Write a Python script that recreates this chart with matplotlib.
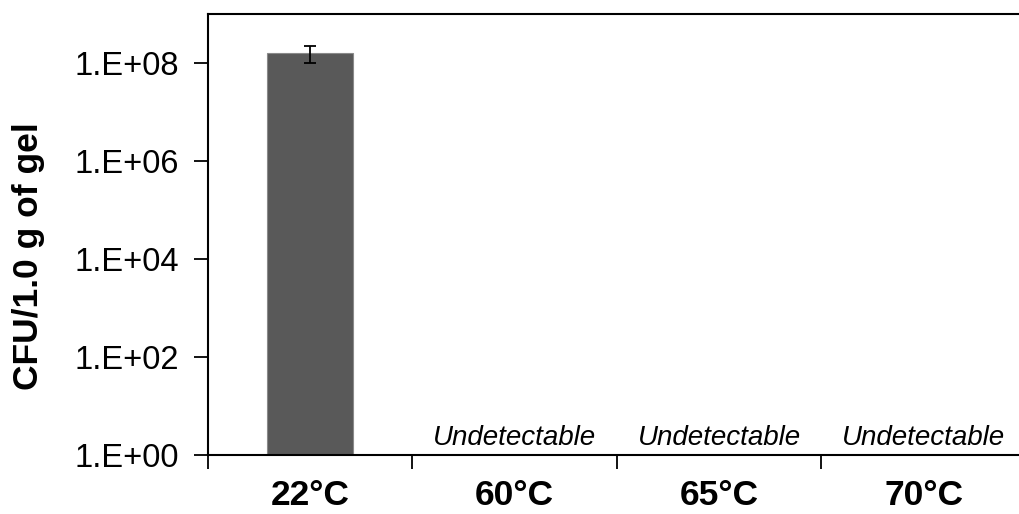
import numpy as np
import matplotlib.pyplot as plt

plt.rcParams['font.family'] = ['Liberation Sans', 'DejaVu Sans']

temperaturas = ['22°C', '60°C', '65°C', '70°C']
cfu = [1.6e8, 0, 0, 0]
erro = [0.58e8, 0, 0, 0]
detectado = [True, False, False, False]

fig = plt.figure(figsize=(10.2, 5.14), dpi=100)
ax = fig.add_axes([208 / 1020, 59 / 514, 818 / 1020, 441 / 514])

x = np.arange(len(temperaturas))
for i in range(len(temperaturas)):
    if detectado[i]:
        ax.bar(x[i], cfu[i], width=0.42, bottom=1, color='#595959',
               edgecolor='#8a8a8a', linewidth=0.8, zorder=2)
        ax.errorbar(x[i], cfu[i], yerr=erro[i], fmt='none', ecolor='black',
                    elinewidth=1.3, capsize=4, capthick=1.3, zorder=3)
    else:
        ax.text(x[i], 1.6, 'Undetectable', ha='center', va='baseline',
                fontsize=20, style='italic')

ax.set_yscale('log')
ax.set_ylim(1, 1e9)
ax.set_xlim(-0.5, 3.5)
ax.set_yticks([1e0, 1e2, 1e4, 1e6, 1e8])
ax.set_yticklabels(['1.E+00', '1.E+02', '1.E+04', '1.E+06', '1.E+08'])
ax.yaxis.set_minor_locator(plt.NullLocator())
ax.set_xticks(np.arange(-0.5, 3.6, 1.0))
ax.set_xticklabels([])
ax.set_xticks(x, minor=True)
ax.set_xticklabels(temperaturas, minor=True, fontsize=25.5, fontweight='bold')
ax.tick_params(axis='x', which='major', direction='out', length=10, width=1.3)
ax.tick_params(axis='x', which='minor', length=0, pad=17)
ax.tick_params(axis='y', direction='out', length=10, width=1.3, pad=11,
               labelsize=23.5)
for s in ax.spines.values():
    s.set_linewidth(1.5)

fig.text(29 / 1020, 1 - 256 / 514, 'CFU/1.0 g of gel', rotation=90,
         ha='center', va='center', fontsize=25.5, fontweight='bold')

plt.savefig('out.png', dpi=100)
